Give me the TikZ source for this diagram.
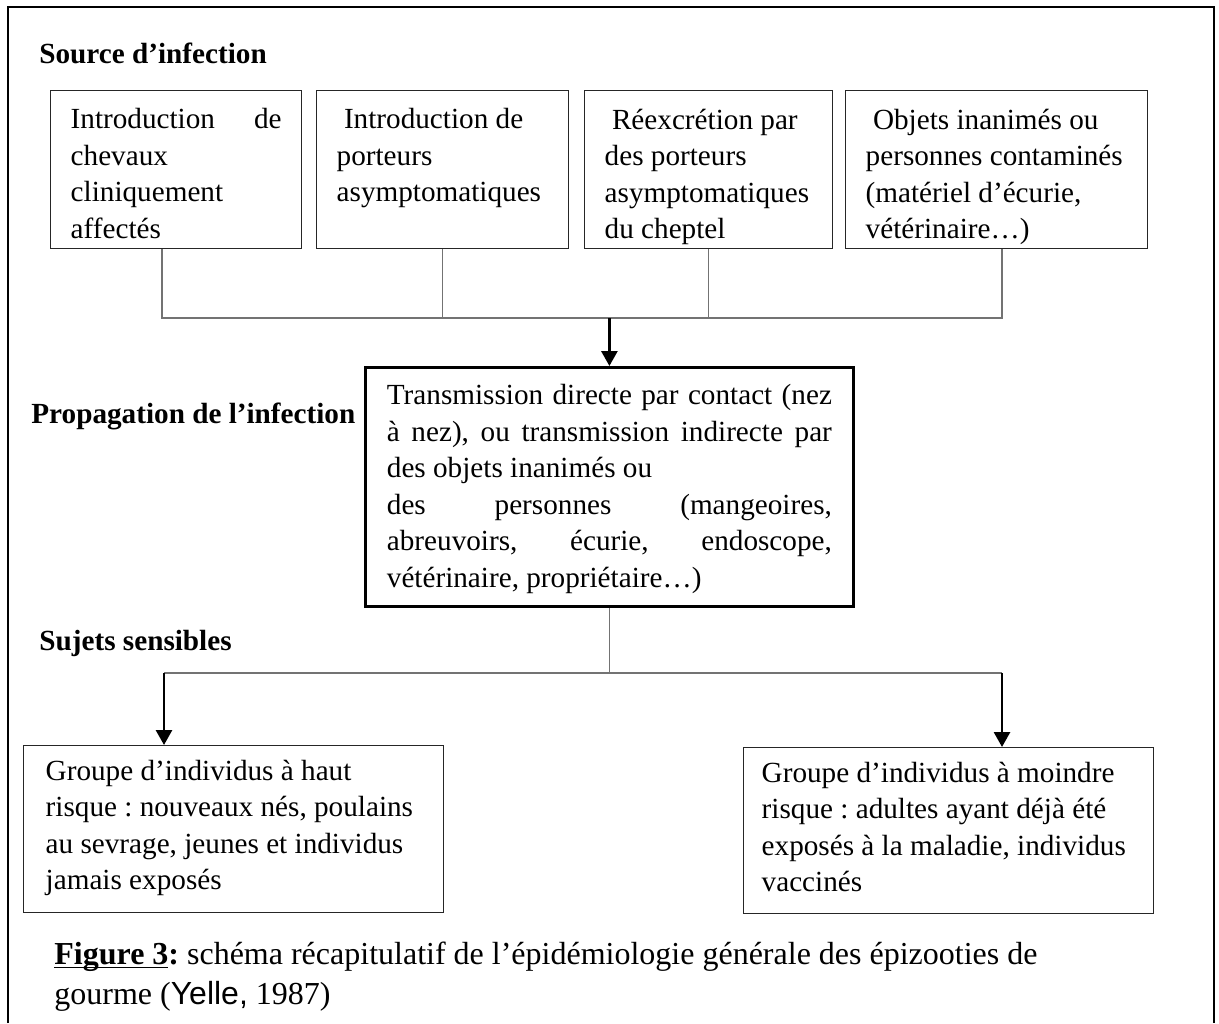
\documentclass[tikz,border=0pt]{standalone}
\usepackage{fontspec}
\setmainfont{Liberation Serif}
\setsansfont{Liberation Sans}
\usepackage{tikz}
\usetikzlibrary{arrows.meta}

% ligne justifiee sur toute la largeur
\newcommand{\jline}[1]{\makebox[\linewidth][s]{#1}}
% soulignement proche de la ligne de base
\newcommand{\ulfig}[1]{\setbox0\hbox{#1}\rlap{\rule[-1.6pt]{\wd0}{0.8pt}}\box0}

\tikzset{
	every node/.style={font=\fontsize{14.6}{18.25}\selectfont\frenchspacing},
	title/.style={font=\fontsize{14.6}{18.25}\selectfont\bfseries, anchor=base west, inner sep=0pt},
	srcbox/.style={draw=black!85, line width=0.7pt, anchor=north west, inner xsep=10pt, inner ysep=9pt},
	propbox/.style={draw=black, line width=1.4pt, anchor=north west, inner xsep=10.75pt, inner ysep=8.5pt},
	riskbox/.style={draw=black!85, line width=0.7pt, anchor=north west, inner ysep=7pt},
	link/.style={draw=black!55, line width=0.6pt},
	flow/.style={->, line width=1.4pt, >={Triangle[length=7.5pt,width=8pt]}}
}

\begin{document}
\begin{tikzpicture}[x=0.5pt, y=-0.5pt]

	\useasboundingbox (0,0) rectangle (1219,1023);

	% cadre
	\draw[line width=1pt] (8,1023) -- (8,7) -- (1214,7) -- (1214,1023);

	% titres
	\node[title] (hsrc) at (39,63) {Source d’infection};
	\node[title] (hprop) at (31,423) {Propagation de l’infection};
	\node[title] (hsuj) at (39,650) {Sujets sensibles};

	% sources d'infection
	\node[srcbox] (src1) at (50,90) {\parbox[c][61pt][t]{105.5pt}{\jline{Introduction de}\\ chevaux\\ cliniquement\\ affectés}};
	\node[srcbox] (src2) at (316,90) {\parbox[c][61pt][t]{106pt}{\raggedright\ Introduction de\\ porteurs\\ asymptomatiques}};
	\node[srcbox] (src3) at (584,90) {\parbox[c][61pt][t]{104pt}{\raggedright\ Réexcrétion par\\ des porteurs\\ asymptomatiques\\ du cheptel}};
	\node[srcbox] (src4) at (845,90) {\parbox[c][61pt][t]{131pt}{\raggedright\ Objets inanimés ou\\ personnes contaminés\\ (matériel d’écurie,\\ vétérinaire…)}};

	% propagation
	\node[propbox] (prop) at (364,366) {\parbox[c][102.5pt][t]{222.5pt}{\jline{Transmission directe par contact (nez}\\ \jline{à nez), ou transmission indirecte par}\\ des objets inanimés ou\\ \jline{des personnes (mangeoires,}\\ \jline{abreuvoirs, écurie, endoscope,}\\ vétérinaire, propriétaire…)}};

	% sujets sensibles
	\node[riskbox, inner xsep=11pt] (risk1) at (23,745) {\parbox[c][69.5pt][t]{188pt}{\raggedright Groupe d’individus à haut\\ risque : nouveaux nés, poulains\\ au sevrage, jeunes et individus\\ jamais exposés}};
	\node[riskbox, inner xsep=9pt] (risk2) at (743,747) {\parbox[c][69pt][t]{187pt}{\raggedright Groupe d’individus à moindre\\ risque : adultes ayant déjà été\\ exposés à la maladie, individus\\ vaccinés}};

	% liaisons du haut
	\coordinate (jl) at (162,318);
	\coordinate (jr) at (1002,318);
	\draw[link] (src1.south -| jl) -- (jl) -- (jr) -- (src4.south -| jr);
	\draw[link] (src2.south) -- (src2.south |- jl);
	\draw[link] (src3.south) -- (src3.south |- jl);
	\draw[flow] (prop.north |- jl) -- (prop.north);

	% liaisons du bas
	\coordinate (sl) at (164,673);
	\coordinate (sr) at (1002,673);
	\draw[link] (prop.south) -- (prop.south |- sl);
	\draw[link] (sl) -- (sr);
	\draw[flow] (sl) -- (sl |- risk1.north);
	\draw[flow] (sr) -- (sr |- risk2.north);

	% legende
	\node[anchor=north west, inner sep=0pt, align=left, font=\fontsize{16}{20}\selectfont\frenchspacing] (cap) at (54,942) {\textbf{\ulfig{Figure 3}:} schéma récapitulatif de l’épidémiologie générale des épizooties de\\ gourme ({\sffamily Yelle,} 1987)};
\end{tikzpicture}
\end{document}
